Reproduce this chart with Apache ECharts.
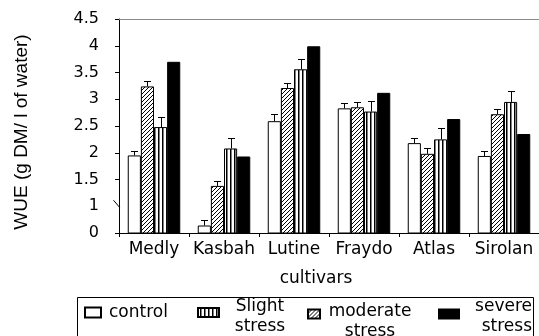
<!DOCTYPE html>
<html>
<head>
<meta charset="utf-8">
<script src="https://cdn.jsdelivr.net/npm/echarts@6.0.0/dist/echarts.min.js"></script>
<style>
  html, body { margin: 0; padding: 0; background: #fff; }
  #chart { width: 539px; height: 336px; }
</style>
</head>
<body>
<div id="chart"></div>
<script>
// values are read against the drawn axis; the axis is broken below 1,
// so its bottom ("0") sits at 0.5 on the scale
var categories = ['Medly', 'Kasbah', 'Lutine', 'Fraydo', 'Atlas', 'Sirolan'];
var control = [1.95, 0.64, 2.59, 2.83, 2.18, 1.94];
var moderate = [3.24, 1.38, 3.21, 2.85, 1.98, 2.72];
var slight = [2.48, 2.08, 3.56, 2.77, 2.25, 2.95];
var severe = [3.70, 1.93, 3.99, 3.12, 2.63, 2.35];
var controlErr = [0.09, 0.10, 0.13, 0.10, 0.10, 0.10];
var moderateErr = [0.11, 0.09, 0.10, 0.10, 0.10, 0.10];
var slightErr = [0.19, 0.20, 0.19, 0.20, 0.21, 0.20];
var tickValues = [0.5, 1.5, 2, 2.5, 3, 3.5, 4, 4.5];

var FONT = 'DejaVu Sans';
var GAP = 0.25;

function makePattern(kind) {
  var c = document.createElement('canvas');
  c.width = 4; c.height = 4;
  var ctx = c.getContext('2d');
  ctx.fillStyle = '#fff';
  ctx.fillRect(0, 0, 4, 4);
  ctx.fillStyle = '#000';
  ctx.strokeStyle = '#000';
  ctx.lineWidth = 1;
  if (kind === 'vertical') {
    ctx.fillRect(2, 0, 1.5, 4);
  } else {
    ctx.beginPath();
    ctx.moveTo(0, 4); ctx.lineTo(4, 0);
    ctx.moveTo(-1, 1); ctx.lineTo(1, -1);
    ctx.moveTo(3, 5); ctx.lineTo(5, 3);
    ctx.stroke();
  }
  return { image: c, repeat: 'repeat' };
}

function barSeries(name, data, color) {
  return {
    name: name,
    type: 'bar',
    data: data,
    barGap: '0%',
    barCategoryGap: (GAP * 100) + '%',
    itemStyle: { color: color, borderColor: '#000', borderWidth: 1 },
    emphasis: { disabled: true }
  };
}

function errorSeries(values, errors, slot) {
  return {
    type: 'custom',
    name: 'err' + slot,
    silent: true,
    z: 5,
    data: values.map(function (v, i) { return [i, v, errors[i]]; }),
    encode: { x: 0, y: 1 },
    renderItem: function (params, api) {
      var base = api.coord([api.value(0), api.value(1)]);
      var top = api.coord([api.value(0), api.value(1) + api.value(2)]);
      var band = api.size([1, 0])[0];
      var bw = band * (1 - GAP) / 4;
      var cx = Math.round(base[0] + (slot - 1.5) * bw) + 0.5;
      var ty = Math.round(top[1]) + 0.5;
      return {
        type: 'group',
        children: [
          { type: 'line', shape: { x1: cx, y1: base[1], x2: cx, y2: ty }, style: { stroke: '#000', lineWidth: 1 } },
          { type: 'line', shape: { x1: cx - 3.5, y1: ty, x2: cx + 3.5, y2: ty }, style: { stroke: '#000', lineWidth: 1 } }
        ]
      };
    }
  };
}

function legendItem(name, left, top, w, h, label, width, align, pad) {
  return {
    data: [name],
    left: left,
    top: top,
    padding: 0,
    icon: 'rect',
    itemWidth: w,
    itemHeight: h,
    selectedMode: false,
    formatter: function () {
      return label.map(function (s) { return '{a|' + s + '}'; }).join('\n');
    },
    textStyle: {
      padding: pad,
      rich: {
        a: { fontFamily: FONT, fontSize: 17, color: '#000', lineHeight: 20, width: width, align: align }
      }
    }
  };
}

var chart = echarts.init(document.getElementById('chart'));

var option = {
  animation: false,
  backgroundColor: '#fff',
  grid: { left: 119, right: -4, top: 19, bottom: 103 },
  xAxis: [
    {
      type: 'category',
      data: categories,
      name: 'cultivars',
      nameLocation: 'middle',
      nameGap: 37,
      nameTextStyle: { fontFamily: FONT, fontSize: 17, color: '#000', padding: [0, 26, 0, 0] },
      axisLine: { lineStyle: { color: '#000', width: 1 } },
      axisTick: { show: true, length: 4, lineStyle: { color: '#000' } },
      axisLabel: { interval: 0, margin: 8, fontFamily: FONT, fontSize: 17, color: '#000' }
    },
    {
      // plain frame line along the top of the plot
      type: 'category',
      data: categories,
      position: 'top',
      axisLine: { lineStyle: { color: '#8a8a8a', width: 1 } },
      axisTick: { show: false },
      axisLabel: { show: false }
    }
  ],
  yAxis: {
    type: 'value',
    min: 0.5,
    max: 4.5,
    interval: 0.5,
    name: 'WUE (g DM/ l of water)',
    nameLocation: 'middle',
    nameGap: 88,
    nameTextStyle: { fontFamily: 'Liberation Sans', fontSize: 19, color: '#000', padding: [0, 12, 0, 0] },
    splitLine: { show: false },
    axisLine: { show: true, lineStyle: { color: '#000', width: 1 } },
    axisTick: { show: true, length: 4, customValues: tickValues, lineStyle: { color: '#000' } },
    axisLabel: {
      margin: 20,
      fontFamily: FONT,
      fontSize: 16,
      color: '#000',
      formatter: function (v) { return v === 0.5 ? '0' : String(v); }
    }
  },
  legend: [
    legendItem('control', 84, 304, 16, 10, ['control'], null, 'left', [0, 0, 0, 3]),
    legendItem('Slight stress', 197, 298, 21, 9, ['Slight', 'stress'], 58, 'center', [8, 0, 0, 7]),
    legendItem('moderate stress', 307, 303, 12, 9, ['moderate', 'stress'], 90, 'center', [15, 0, 0, 0]),
    legendItem('severe stress', 438, 298, 20, 9, ['severe', 'stress'], 68, 'right', [5, 0, 0, 0])
  ],
  graphic: [
    {
      type: 'rect',
      shape: { x: 77.5, y: 297.5, width: 456, height: 60 },
      style: { fill: 'none', stroke: '#000', lineWidth: 1 },
      silent: true
    }
  ],
  series: [
    barSeries('control', control, '#fff'),
    barSeries('moderate stress', moderate, makePattern('diagonal')),
    barSeries('Slight stress', slight, makePattern('vertical')),
    barSeries('severe stress', severe, '#000'),
    errorSeries(control, controlErr, 0),
    errorSeries(moderate, moderateErr, 1),
    errorSeries(slight, slightErr, 2)
  ]
};

chart.setOption(option);

// small break mark on the value axis at 1
var p = chart.convertToPixel({ gridIndex: 0 }, [0, 1]);
var ax = 119.5;
chart.setOption({
  graphic: [
    {},
    {
      type: 'line',
      shape: { x1: ax - 6, y1: p[1] - 6, x2: ax, y2: p[1] + 1 },
      style: { stroke: '#000', lineWidth: 1 },
      silent: true
    }
  ]
});
</script>
</body>
</html>
